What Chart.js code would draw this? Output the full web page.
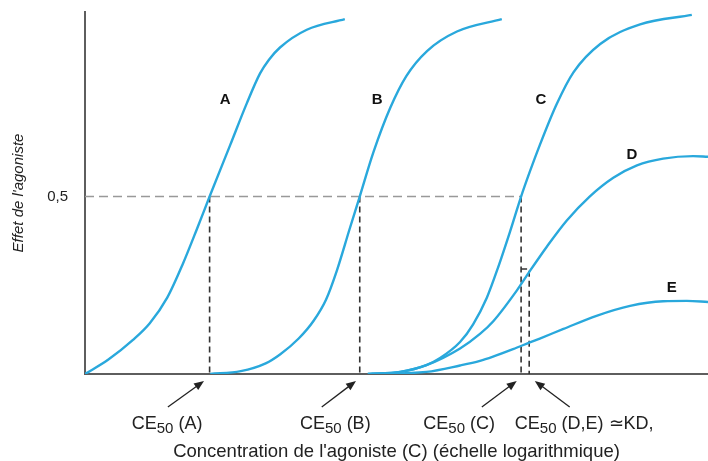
<!DOCTYPE html>
<html>
<head>
<meta charset="utf-8">
<script src="https://cdn.jsdelivr.net/npm/chart.js@4.4.1/dist/chart.umd.min.js"></script>
<style>
    html, body { margin: 0; padding: 0; background: #fff; }
    #wrap { width: 708px; height: 461px; }
</style>
</head>
<body>
<div id="wrap"><canvas id="doseChart" width="708" height="461"></canvas></div>
<script>
// x = log concentration (arbitrary units 0-10), y = fraction of max effect
const xA = [0, 0.37, 0.77, 1.04, 1.32, 1.57, 1.8, 2.0, 2.33, 2.6, 2.81, 2.95, 3.13, 3.56, 4.17];
const yA = [0, 0.04, 0.096, 0.143, 0.215, 0.31, 0.41, 0.5, 0.645, 0.764, 0.847, 0.885, 0.92, 0.97, 1.0];

const xB = [2.01, 2.5, 2.9, 3.13, 3.43, 3.67, 3.87, 4.04, 4.25, 4.41, 4.63, 4.9, 5.16, 5.49, 5.97, 6.69];
const yB = [0, 0.008, 0.03, 0.055, 0.1, 0.15, 0.21, 0.29, 0.41, 0.5, 0.625, 0.75, 0.84, 0.91, 0.965, 1.0];

const xC = [4.54, 5.06, 5.48, 5.7, 6.02, 6.23, 6.45, 6.63, 6.82, 7.0, 7.14, 7.3, 7.57, 7.84, 8.27, 8.91, 9.74];
const yC = [0, 0.006, 0.025, 0.045, 0.09, 0.14, 0.215, 0.3, 0.4, 0.5, 0.57, 0.645, 0.76, 0.85, 0.93, 0.985, 1.012];

const xD = [4.54, 5.06, 5.48, 6.02, 6.34, 6.55, 6.93, 7.14, 7.41, 7.73, 8.1, 8.48, 8.86, 9.28, 9.76, 10];
const yD = [0, 0.006, 0.025, 0.072, 0.113, 0.148, 0.235, 0.29, 0.358, 0.432, 0.5, 0.553, 0.588, 0.607, 0.614, 0.612];

const xE = [4.6, 5.48, 6.02, 6.34, 6.55, 6.87, 7.14, 7.3, 7.68, 8.21, 8.75, 9.28, 9.66, 10];
const yE = [0, 0.006, 0.024, 0.037, 0.049, 0.07, 0.089, 0.1, 0.127, 0.164, 0.192, 0.205, 0.206, 0.203];

// CE50 of A, B, C and of D/E (where D reaches half its own maximum)
const ec50 = [2.0, 4.41, 7.0];
const ec50DE = 7.13;
const halfDE = 0.296;

const curveNames = ['A', 'B', 'C', 'D', 'E'];
const nameX = [2.25, 4.69, 7.32, 8.78, 9.42];
const nameY = [0.772, 0.772, 0.772, 0.617, 0.242];

const ceSuffix = [' (A)', ' (B)', ' (C)', ' (D,E) \u2243KD,'];
const ceLabelX = [0.75, 3.45, 5.43, 6.9];
const arrowTailX = [1.33, 3.8, 6.37, 7.78];
const arrowTipX = [1.91, 4.35, 6.93, 7.22];

const FONT = '"Liberation Sans", Arial, Helvetica, sans-serif';
const BLUE = '#29a8dc';

const pts = (xs, ys) => xs.map((x, i) => ({ x: x, y: ys[i] }));

function curve(xs, ys) {
    return {
        data: pts(xs, ys),
        borderColor: BLUE,
        borderWidth: 2.4,
        pointRadius: 0,
        cubicInterpolationMode: 'monotone',
        fill: false,
        order: 1
    };
}

function dashed(data, color, dash) {
    return {
        data: data,
        borderColor: color,
        borderWidth: 1.6,
        borderDash: dash,
        pointRadius: 0,
        tension: 0,
        fill: false,
        order: 2
    };
}

const datasets = [
    curve(xA, yA), curve(xB, yB), curve(xC, yC), curve(xD, yD), curve(xE, yE),
    dashed([{ x: 0, y: 0.5 }, { x: ec50[2], y: 0.5 }], '#999', [9, 5])
];
ec50.forEach(function (e) {
    datasets.push(dashed([{ x: e, y: 0.5 }, { x: e, y: 0 }], '#333', [6, 4]));
});
datasets.push(dashed([{ x: ec50[2], y: halfDE }, { x: ec50DE, y: halfDE }, { x: ec50DE, y: 0 }], '#333', [6, 4]));

// letters on the curves, CE50 labels and arrows under the axis
const annotations = {
    id: 'annotations',
    afterDatasetsDraw(chart) {
        const ctx = chart.ctx;
        const x = chart.scales.x, y = chart.scales.y;
        ctx.save();
        ctx.fillStyle = '#111';
        ctx.font = 'bold 15px ' + FONT;
        ctx.textAlign = 'center';
        ctx.textBaseline = 'middle';
        curveNames.forEach(function (n, i) {
            ctx.fillText(n, x.getPixelForValue(nameX[i]), y.getPixelForValue(nameY[i]));
        });

        const axisY = y.getPixelForValue(0);
        const baseY = axisY + 55;
        ctx.textAlign = 'left';
        ctx.textBaseline = 'alphabetic';
        ctx.fillStyle = '#222';
        ceSuffix.forEach(function (s, i) {
            let px = x.getPixelForValue(ceLabelX[i]);
            ctx.font = '18px ' + FONT;
            ctx.fillText('CE', px, baseY);
            px += ctx.measureText('CE').width;
            ctx.font = '15px ' + FONT;
            ctx.fillText('50', px, baseY + 4);
            px += ctx.measureText('50').width;
            ctx.font = '18px ' + FONT;
            ctx.fillText(s, px, baseY);
        });

        ctx.strokeStyle = '#222';
        ctx.fillStyle = '#222';
        ctx.lineWidth = 1.3;
        arrowTipX.forEach(function (t, i) {
            const x1 = x.getPixelForValue(arrowTailX[i]), y1 = axisY + 33;
            const x2 = x.getPixelForValue(t), y2 = axisY + 7;
            const ang = Math.atan2(y2 - y1, x2 - x1);
            ctx.beginPath();
            ctx.moveTo(x1, y1);
            ctx.lineTo(x2 - 6 * Math.cos(ang), y2 - 6 * Math.sin(ang));
            ctx.stroke();
            ctx.beginPath();
            ctx.moveTo(x2, y2);
            ctx.lineTo(x2 - 10 * Math.cos(ang) + 4 * Math.sin(ang), y2 - 10 * Math.sin(ang) - 4 * Math.cos(ang));
            ctx.lineTo(x2 - 10 * Math.cos(ang) - 4 * Math.sin(ang), y2 - 10 * Math.sin(ang) + 4 * Math.cos(ang));
            ctx.closePath();
            ctx.fill();
        });
        ctx.restore();
    }
};

new Chart(document.getElementById('doseChart'), {
    type: 'line',
    data: { datasets: datasets },
    options: {
        responsive: false,
        animation: false,
        events: [],
        layout: { padding: { top: 12, right: 0, bottom: 0, left: 0 } },
        plugins: { legend: { display: false }, tooltip: { enabled: false } },
        scales: {
            x: {
                type: 'linear',
                min: 0,
                max: 10,
                grid: { display: false },
                border: { display: true, color: '#5e5e5e', width: 2 },
                ticks: { display: false },
                title: {
                    display: true,
                    text: "Concentration de l'agoniste (C) (échelle logarithmique)",
                    color: '#222',
                    font: { family: FONT, size: 18.5 },
                    padding: { top: 0, bottom: -2 }
                },
                afterFit: function (s) { s.height = 87; s.paddingLeft = 0; s.paddingRight = 0; }
            },
            y: {
                min: 0,
                max: 1.02,
                grid: { display: false },
                border: { display: true, color: '#5e5e5e', width: 2 },
                afterBuildTicks: function (s) { s.ticks = [{ value: 0.5 }]; },
                ticks: {
                    color: '#222',
                    padding: 9,
                    font: { family: FONT, size: 15 },
                    callback: function (v) { return String(v).replace('.', ','); }
                },
                title: {
                    display: true,
                    text: "Effet de l'agoniste",
                    color: '#222',
                    font: { family: FONT, size: 15, style: 'italic' },
                    padding: { top: 10, bottom: 0 }
                },
                afterFit: function (s) { s.width = 85; s.paddingTop = 0; s.paddingBottom = 0; }
            }
        }
    },
    plugins: [annotations]
});
</script>
</body>
</html>
